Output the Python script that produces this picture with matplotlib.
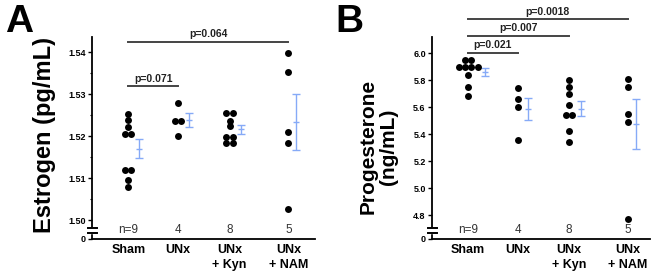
import matplotlib
matplotlib.use('Agg')
import matplotlib.pyplot as plt
from matplotlib.transforms import blended_transform_factory
import numpy as np

plt.rcParams['font.family'] = ['Liberation Sans', 'DejaVu Sans']

group_labels = ['Sham', 'UNx', 'UNx\n+ Kyn', 'UNx\n+ NAM']
n_labels = ['n=9', '4', '8', '5']

estrogen_sham = [1.5252, 1.5238, 1.5221, 1.5204, 1.5204, 1.5119, 1.5119, 1.5095, 1.5078]
estrogen_unx = [1.5279, 1.5236, 1.5236, 1.5201]
estrogen_kyn = [1.5255, 1.5255, 1.5236, 1.5224, 1.5198, 1.5198, 1.5183, 1.5183]
estrogen_nam = [1.5398, 1.5352, 1.5210, 1.5184, 1.5026]
estrogen_ticks = [1.50, 1.51, 1.52, 1.53, 1.54]
estrogen_pvals = [(0, 1, 'p=0.071'), (0, 3, 'p=0.064')]

prog_sham = [5.95, 5.95, 5.90, 5.90, 5.90, 5.90, 5.84, 5.75, 5.68]
prog_unx = [5.74, 5.66, 5.60, 5.36]
prog_kyn = [5.80, 5.75, 5.70, 5.62, 5.54, 5.54, 5.42, 5.34]
prog_nam = [5.81, 5.75, 5.55, 5.49, 4.77]
prog_ticks = [4.8, 5.0, 5.2, 5.4, 5.6, 5.8, 6.0]
prog_pvals = [(0, 1, 'p=0.021'), (0, 2, 'p=0.007'), (0, 3, 'p=0.0018')]

W, H = 659, 275
xpos = [0, 0.93, 1.9, 3.0]
err_color = '#86aaf7'


def draw_panel(ax, groups, ticks, ylim, err_off, pvals, p_y, xlim, minor=None):
    ax.set_xlim(*xlim)
    ax.set_ylim(*ylim)
    for i, vals in enumerate(groups):
        vals = np.array(vals)
        # spread equal values side by side
        uniq, counts = np.unique(vals, return_counts=True)
        for u, k in zip(uniq, counts):
            offs = (np.arange(k) - (k - 1) / 2) * 0.12
            ax.plot(xpos[i] + offs, [u] * k, 'o', color='black', ms=5, mew=0, zorder=3)
        m = vals.mean()
        sem = vals.std(ddof=1) / np.sqrt(len(vals))
        ax.errorbar(xpos[i] + err_off[i], m, yerr=sem, fmt='_', color=err_color,
                    ms=5, mew=1, elinewidth=1, capsize=2.6, capthick=1, zorder=2)
    for s in ['top', 'right']:
        ax.spines[s].set_visible(False)
    for s in ['left', 'bottom']:
        ax.spines[s].set_linewidth(1.3)
    ax.set_yticks([ylim[0]] + ticks)
    ax.set_yticklabels(['0'] + ['%.2f' % t if ticks[0] < 2 else '%.1f' % t for t in ticks],
                       fontsize=6.5, fontweight='bold')
    if minor is not None:
        ax.set_yticks(minor, minor=True)
        ax.tick_params(axis='y', which='minor', length=1.5, width=0.8)
    ax.tick_params(axis='y', which='major', length=3, width=1, pad=1.5)
    ax.set_xticks([])
    tr = blended_transform_factory(ax.transData, ax.transAxes)
    for i in range(4):
        ax.text(xpos[i], 0.045, n_labels[i], transform=tr, ha='center', va='center',
                fontsize=8.5, color='#333333')
        ax.text(xpos[i], -0.025, group_labels[i], transform=tr, ha='center', va='top',
                fontsize=9, fontweight='bold', linespacing=1.35)
    for (a, b, txt), y in zip(pvals, p_y):
        ax.plot([xpos[a], xpos[b]], [y, y], color='#444444', lw=1.4, transform=tr, clip_on=False)
        ax.text((xpos[a] + xpos[b]) / 2, y + 0.012, txt, transform=tr, ha='center', va='bottom',
                fontsize=7.5, fontweight='bold', color='#222222')
    # axis break
    bw = ax.get_window_extent().width
    dx = 4.5 / bw
    ax.plot([0, 0], [0.036, 0.048], color='white', lw=2.5, transform=ax.transAxes,
            clip_on=False, zorder=5)
    for yb in [0.032, 0.052]:
        ax.plot([-dx, dx], [yb, yb], color='black', lw=1.4, transform=ax.transAxes,
                clip_on=False, zorder=6)


fig = plt.figure(figsize=(W / 100, H / 100), dpi=100)

axA = fig.add_axes([92 / W, 36 / H, 223 / W, 202 / H])
draw_panel(axA, [estrogen_sham, estrogen_unx, estrogen_kyn, estrogen_nam], estrogen_ticks,
           (1.4955, 1.5436), [0.2, 0.2, 0.22, 0.15], estrogen_pvals, [0.757, 0.977],
           (-0.68, 3.5), minor=[1.505, 1.515, 1.525, 1.535])
axA.text(-0.211, 0.515, 'Estrogen (pg/mL)', transform=axA.transAxes, rotation=90,
         ha='center', va='center', fontsize=17, fontweight='bold')

axB = fig.add_axes([432 / W, 36 / H, 218 / W, 202 / H])
draw_panel(axB, [prog_sham, prog_unx, prog_kyn, prog_nam], prog_ticks,
           (4.622, 6.121), [0.32, 0.2, 0.22, 0.15], prog_pvals, [0.922, 1.006, 1.088],
           (-0.68, 3.42))
axB.text(-0.248, 0.458, 'Progesterone\n(ng/mL)', transform=axB.transAxes, rotation=90,
         ha='center', va='center', fontsize=15, fontweight='bold', linespacing=1.1)

fig.text(5 / W, 1 - 4 / H, 'A', ha='left', va='top', fontsize=28, fontweight='bold')
fig.text(335 / W, 1 - 4 / H, 'B', ha='left', va='top', fontsize=28, fontweight='bold')

fig.savefig('out.png', dpi=100)
